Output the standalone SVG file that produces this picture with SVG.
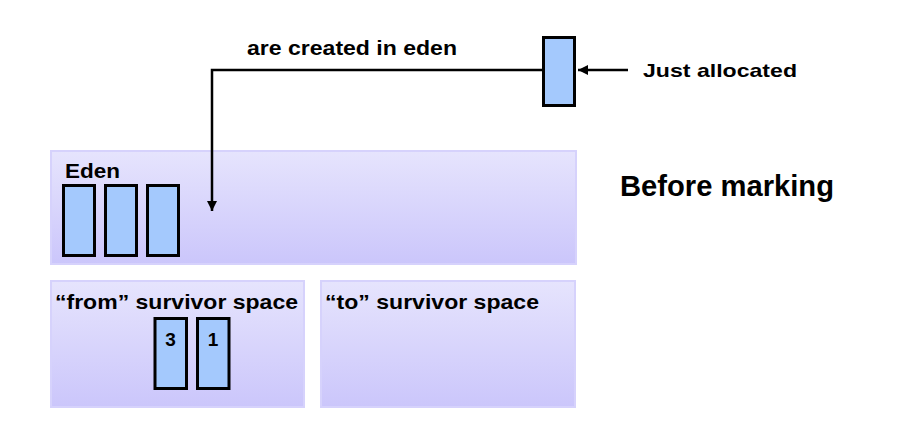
<svg xmlns="http://www.w3.org/2000/svg" width="900" height="444" viewBox="0 0 900 444">
<defs>
<linearGradient id="spaceGrad" x1="0" y1="0" x2="0" y2="1">
<stop offset="0" stop-color="#e6e4fd"/>
<stop offset="1" stop-color="#cbc6fb"/>
</linearGradient>
<marker id="arrow" viewBox="0 0 10 10" refX="10" refY="5" markerWidth="4" markerHeight="4" orient="auto" markerUnits="strokeWidth">
<path d="M0,0 L10,5 L0,10 z" fill="#000"/>
</marker>
<style>
.space{fill:url(#spaceGrad);stroke:#d6d2fc;stroke-width:2}
.obj{fill:#a4c9fd;stroke:#000;stroke-width:3}
.lbl{font-family:"Liberation Sans",Arial,sans-serif;font-weight:bold;fill:#000}
.conn{fill:none;stroke:#000;stroke-width:2.5}
</style>
</defs>
<rect width="900" height="444" fill="#fff"/>
<g id="eden">
<rect class="space" x="51" y="151" width="525" height="113"/>
<text class="lbl" x="65" y="178" font-size="20" textLength="55" lengthAdjust="spacingAndGlyphs">Eden</text>
<rect class="obj" x="63.5" y="185.5" width="31" height="70"/>
<rect class="obj" x="105.5" y="185.5" width="31" height="70"/>
<rect class="obj" x="147.5" y="185.5" width="31" height="70"/>
</g>
<g id="from-space">
<rect class="space" x="51" y="281" width="253" height="126"/>
<text class="lbl" x="55" y="309" font-size="21" textLength="243" lengthAdjust="spacingAndGlyphs">“from” survivor space</text>
<rect class="obj" x="155" y="318.5" width="31.5" height="70"/>
<rect class="obj" x="197.5" y="318.5" width="31.5" height="70"/>
<text class="lbl" x="170.5" y="346" font-size="19" text-anchor="middle">3</text>
<text class="lbl" x="213" y="346" font-size="19" text-anchor="middle">1</text>
</g>
<g id="to-space">
<rect class="space" x="321" y="281" width="254" height="126"/>
<text class="lbl" x="325" y="309" font-size="21" textLength="214" lengthAdjust="spacingAndGlyphs">“to” survivor space</text>
</g>
<g id="just-allocated">
<rect class="obj" x="543.5" y="37.5" width="31" height="68"/>
<text class="lbl" x="643" y="77" font-size="19" textLength="154" lengthAdjust="spacingAndGlyphs">Just allocated</text>
</g>
<g id="title">
<text class="lbl" x="620" y="196" font-size="29" textLength="214" lengthAdjust="spacingAndGlyphs">Before marking</text>
</g>
<g id="connectors">
<path class="conn" d="M542,70 H212 V211" marker-end="url(#arrow)"/>
<path class="conn" d="M628,70 H578" marker-end="url(#arrow)"/>
<text class="lbl" x="247" y="55" font-size="20.5" textLength="210" lengthAdjust="spacingAndGlyphs">are created in eden</text>
</g>
</svg>
